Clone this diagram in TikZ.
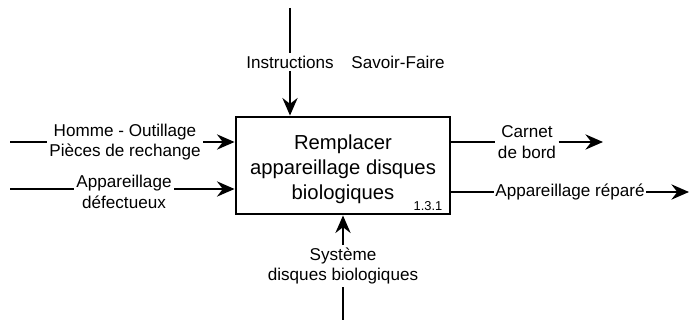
\documentclass[tikz,border=0pt]{standalone}
\usepackage{fontspec}
\setmainfont{Liberation Sans}
\usetikzlibrary{arrows.meta}
\begin{document}
\begin{tikzpicture}[x=0.03cm,y=-0.03cm,
  lbl/.style={inner sep=2pt,align=center,font=\fontsize{14.6}{17.5}\selectfont},
  conn/.style={line width=1.8pt},
  >={Stealth[length=15pt,width=13pt,inset=5pt]},
  arr/.style={conn,->}]
\useasboundingbox (0,0) rectangle (689,320);
% main box
\node[draw,line width=2.5pt,inner sep=0pt,minimum width=214*0.03cm,minimum height=97*0.03cm] (box) at (343,165.5) {};
\node[align=center,font=\fontsize{17.3}{21.5}\selectfont] (boxtext) at (343,169) {Remplacer\\appareillage disques\\biologiques};
\node[font=\fontsize{11}{12}\selectfont,inner sep=0pt] (num) at (428,206) {1.3.1};
% top
\coordinate (ctop) at (290,8);
\node[lbl] (instr) at (290,62) {Instructions};
\node[lbl] (savoir) at (398,62) {Savoir-Faire};
\draw[conn] (ctop) -- (instr.north);
\draw[arr] (instr.south) -- (box.north -| instr);
% bottom
\node[lbl] (sys) at (343,266) {Système\\disques biologiques};
\coordinate (cbot) at (343,320);
\draw[conn] (cbot) -- (sys.south);
\draw[arr] (sys.north) -- (box.south -| sys);
% left inputs
\coordinate (in1) at (10,142);
\node[lbl] (hom) at (125,142) {Homme - Outillage\\Pièces de rechange};
\draw[conn] (in1) -- (hom.west);
\draw[arr] (hom.east) -- (box.west |- hom);
\coordinate (in2) at (10,189);
\node[lbl] (app) at (124,192) {Appareillage\\défectueux};
\draw[conn] (in2) -- (app.west |- in2);
\draw[arr] (app.east |- in2) -- (box.west |- in2);
% right outputs
\node[lbl] (carnet) at (527,142) {Carnet\\de bord};
\coordinate (out1) at (603,142);
\draw[conn] (box.east |- carnet) -- (carnet.west);
\draw[arr] (carnet.east) -- (out1);
\node[lbl,inner sep=1pt] (rep) at (570,192) {Appareillage réparé};
\coordinate (out2) at (689,192);
\draw[conn] (box.east |- rep) -- (rep.west);
\draw[arr] (rep.east) -- (out2);
\end{tikzpicture}
\end{document}
